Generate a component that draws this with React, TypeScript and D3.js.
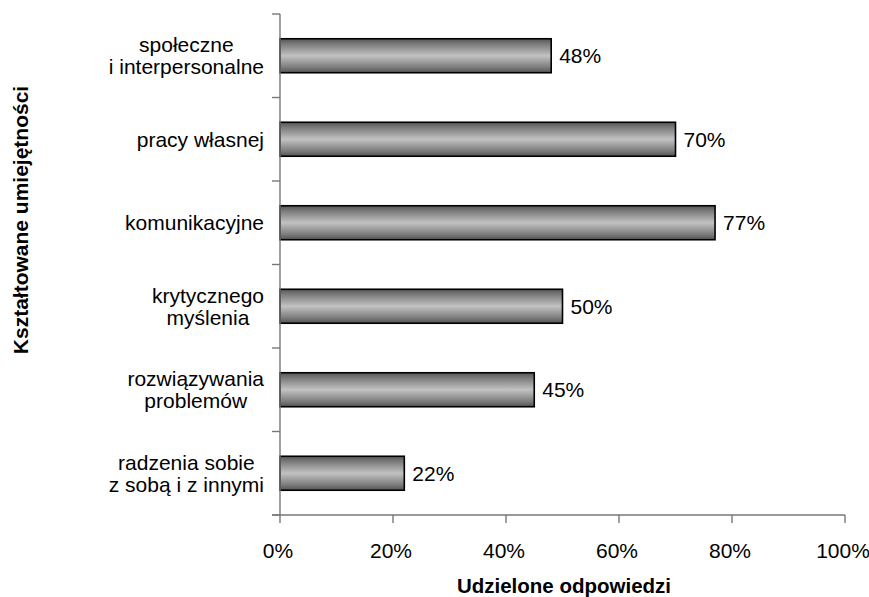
import React from "react";
import * as d3 from "d3";

const categories: string[][] = [
  ["społeczne", "i interpersonalne"],
  ["pracy własnej"],
  ["komunikacyjne"],
  ["krytycznego", "myślenia"],
  ["rozwiązywania", "problemów"],
  ["radzenia sobie", "z sobą i z innymi"],
];
const values: number[] = [0.48, 0.70, 0.77, 0.50, 0.45, 0.22];
const xTicks: number[] = [0, 0.2, 0.4, 0.6, 0.8, 1.0];
const xTitle = "Udzielone odpowiedzi";
const yTitle = "Kształtowane umiejętności";

const W = 869;
const H = 597;
const FONT = "'Liberation Sans', Arial, sans-serif";
const FS = 21;

function measure(text: string, font: string): number {
  const c = document.createElement("canvas");
  const ctx = c.getContext("2d");
  if (!ctx) return text.length * FS * 0.5;
  ctx.font = font;
  return ctx.measureText(text).width;
}

export default function App() {
  const keys = categories.map((c) => c.join(" "));
  const x = d3.scaleLinear().domain([0, 1]).range([280, 845]);
  const y = d3
    .scaleBand<string>()
    .domain(keys)
    .range([14, 515])
    .paddingInner(0.593)
    .paddingOuter(0.2965);
  const step = y.step();
  const fmt = d3.format(".0%");
  const labelRight = 264;
  const lineH = 22;

  return (
    <svg
      width={W}
      height={H}
      style={{ position: "absolute", left: 0, top: 0, background: "#fff" }}
      fontFamily={FONT}
    >
      <defs>
        <linearGradient id="barGrad" x1="0" y1="0" x2="0" y2="1">
          <stop offset="0" stopColor="#555555" />
          <stop offset="0.15" stopColor="#7a7a7a" />
          <stop offset="0.5" stopColor="#c2c2c2" />
          <stop offset="0.85" stopColor="#7a7a7a" />
          <stop offset="1" stopColor="#525252" />
        </linearGradient>
      </defs>

      {/* bars */}
      {keys.map((k, i) => (
        <rect
          key={k}
          x={x(0)}
          y={y(k)!}
          width={x(values[i]) - x(0)}
          height={y.bandwidth()}
          fill="url(#barGrad)"
          stroke="#000"
          strokeWidth={1.6}
        />
      ))}

      {/* axes */}
      <line x1={x(0)} x2={x(0)} y1={14} y2={515} stroke="#777" strokeWidth={1.4} />
      <line x1={272} x2={x(1)} y1={515} y2={515} stroke="#777" strokeWidth={1.4} />
      {d3.range(keys.length + 1).map((i) => (
        <line
          key={"yt" + i}
          x1={272}
          x2={x(0)}
          y1={14 + i * step}
          y2={14 + i * step}
          stroke="#777"
          strokeWidth={1.4}
        />
      ))}
      {xTicks.map((t) => (
        <g key={"xt" + t}>
          <line x1={x(t)} x2={x(t)} y1={515} y2={523} stroke="#777" strokeWidth={1.4} />
          <text x={x(t) - 2} y={558} textAnchor="middle" fontSize={FS} fill="#000">
            {fmt(t)}
          </text>
        </g>
      ))}

      {/* value labels */}
      {keys.map((k, i) => (
        <text
          key={"v" + k}
          x={x(values[i]) + 8}
          y={y(k)! + y.bandwidth() / 2 + 7.3}
          fontSize={FS}
          fill="#000"
        >
          {fmt(values[i])}
        </text>
      ))}

      {/* category labels */}
      {categories.map((lines, i) => {
        const k = keys[i];
        const maxW = Math.max(...lines.map((l) => measure(l, `${FS}px ${FONT}`)));
        const cx = labelRight - maxW / 2;
        const cy = y(k)! + y.bandwidth() / 2;
        return (
          <text key={"c" + k} fontSize={FS} textAnchor="middle" fill="#000">
            {lines.map((l, j) => (
              <tspan
                key={j}
                x={cx}
                y={cy + (j - (lines.length - 1) / 2) * lineH + 7.3}
              >
                {l}
              </tspan>
            ))}
          </text>
        );
      })}

      {/* titles */}
      <text x={564} y={593} textAnchor="middle" fontSize={20.5} fontWeight="bold" fill="#000">
        {xTitle}
      </text>
      <text
        transform={`translate(28,220) rotate(-90)`}
        textAnchor="middle"
        fontSize={21}
        fontWeight="bold"
        fill="#000"
      >
        {yTitle}
      </text>
    </svg>
  );
}
